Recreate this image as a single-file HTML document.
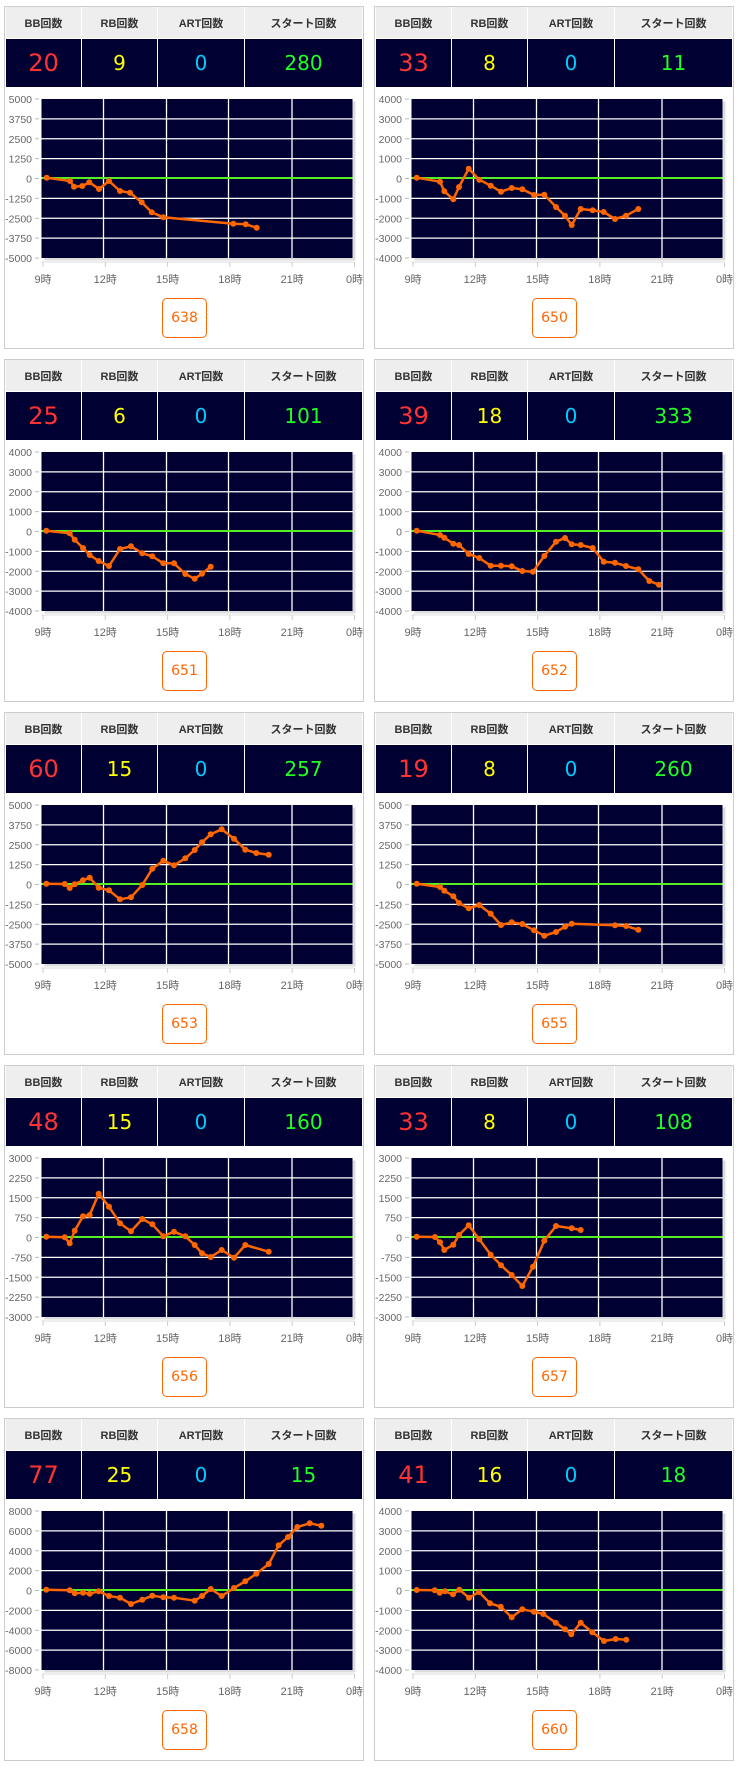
<!DOCTYPE html>
<html><head><meta charset="utf-8">
<style>
body{margin:0;background:#fff;width:738px;height:1767px;position:relative;overflow:hidden;font-family:"Liberation Sans","Noto Sans CJK JP",sans-serif}
.p{position:absolute;width:358px;height:341px;border:1px solid #ccc;background:#fff}
.c{position:absolute;display:flex;align-items:center;justify-content:center}
.h{background:#eee;color:#333;font-weight:bold;font-size:11px;top:0;height:31px}
.d{background:#000033;top:32px;height:48px;font-family:"DejaVu Sans",sans-serif;font-size:20px}
.btn{position:absolute;left:157px;top:291px;width:43px;height:38px;border:1px solid #ff6600;border-radius:5px;color:#ff6600;font-size:14px;display:flex;align-items:center;justify-content:center;font-family:"DejaVu Sans",sans-serif}
svg{position:absolute;left:-1px;top:-1px}
</style></head><body>
<script>
var P=[
["638",[20,9,0,280],5000,-4,-6,[[140,533],[210,543],[222,560],[247,558],[268,547],[297,567],[327,543],[360,573],[390,578],[425,607],[455,637],[490,652],[700,671],[737,673],[770,683]],1],
["650",[33,8,0,11],4000,31,89,[[35,248],[105,260],[118,289],[145,313],[162,276],[191,221],[223,254],[257,272],[288,290],[320,279],[352,283],[387,300],[418,299],[453,336],[480,362],[500,390],[527,342],[563,346],[596,351],[630,372],[663,362],[700,342]]],
["651",[25,6,0,101],4000,34,89,[[25,248],[95,256],[110,275],[135,300],[155,321],[182,339],[213,354],[246,303],[279,295],[313,316],[343,325],[376,346],[408,346],[442,378],[470,392],[492,377],[518,356]]],
["652",[39,18,0,333],4000,31,89,[[35,248],[105,261],[118,269],[145,287],[162,291],[191,318],[223,330],[257,353],[288,353],[320,355],[352,369],[384,371],[418,324],[453,281],[480,270],[500,289],[527,291],[563,300],[596,341],[630,344],[663,354],[700,364],[733,399],[762,410]]],
["653",[60,15,0,257],5000,34,89,[[25,248],[80,249],[95,261],[110,250],[135,238],[155,230],[182,260],[213,268],[246,295],[279,289],[313,252],[343,203],[376,179],[408,193],[442,172],[470,147],[492,124],[518,100],[551,85],[588,113],[622,146],[655,156],[692,161]]],
["655",[19,8,0,260],5000,31,89,[[35,248],[105,258],[118,269],[145,286],[162,306],[191,322],[223,312],[257,338],[288,372],[320,364],[352,369],[387,388],[418,404],[453,393],[480,377],[500,368],[630,373],[663,375],[700,386]]],
["656",[48,15,0,160],3000,34,89,[[25,248],[80,250],[95,268],[110,230],[135,187],[155,183],[182,119],[213,158],[246,208],[279,232],[313,195],[343,211],[376,247],[408,233],[442,247],[470,273],[492,298],[518,309],[551,288],[588,311],[622,273],[692,293]]],
["657",[33,8,0,108],3000,31,89,[[35,248],[90,249],[105,265],[118,288],[145,272],[162,243],[191,214],[223,256],[257,302],[288,334],[320,363],[352,396],[384,338],[418,260],[453,216],[500,223],[527,228]]],
["658",[77,25,0,15],8000,34,89,[[25,248],[95,250],[110,259],[135,257],[155,260],[182,253],[213,267],[246,272],[279,291],[313,278],[343,266],[376,271],[408,272],[470,281],[492,267],[518,246],[551,267],[588,243],[622,223],[655,200],[692,171],[722,115],[750,90],[778,60],[815,49],[850,56]]],
["660",[41,16,0,18],4000,-5,-18,[[143,570],[197,571],[212,578],[228,574],[252,583],[271,569],[300,593],[330,576],[363,610],[395,620],[428,652],[460,628],[495,635],[523,642],[560,668],[588,688],[607,703],[635,668],[670,697],[705,723],[740,717],[772,719]]]
];
var cols=[[1,75],[77,75],[153,86],[240,117]],labs=["BB回数","RB回数","ART回数","スタート回数"],clr=["#ff3333","#ffff00","#00ccff","#22ff22"];
var html="";
P.forEach(function(c,i){
 var L=i%2?374:4,T=6+Math.floor(i/2)*353;
 var s='<div class="p" style="left:'+L+'px;top:'+T+'px">';
 for(var k=0;k<4;k++){
  s+='<div class="c h" style="left:'+cols[k][0]+'px;width:'+cols[k][1]+'px">'+labs[k]+'</div>';
  s+='<div class="c d" style="left:'+cols[k][0]+'px;width:'+cols[k][1]+'px;color:'+clr[k]+(k==0?';font-size:24px':'')+'">'+c[1][k]+'</div>';
 }
 var g='<svg width="360" height="343" xmlns="http://www.w3.org/2000/svg">';
 g+='<rect x="40.5" y="95.5" width="311" height="159" fill="#ddd"/>';
 g+='<rect x="37.5" y="93" width="311" height="159" fill="#000033"/>';
 var xs=[99.5,162.5,224.5,288];
 xs.forEach(function(x){g+='<line x1="'+x+'" y1="93" x2="'+x+'" y2="252" stroke="#fff" stroke-width="1.3"/>';});
 for(var j=0;j<=8;j++){
  var y=93+j*19.875;
  if(j>0&&j<8&&j!=4)g+='<line x1="37.5" y1="'+y+'" x2="348.5" y2="'+y+'" stroke="#fff" stroke-width="1.3"/>';
  g+='<line x1="31" y1="'+y+'" x2="35" y2="'+y+'" stroke="#bbb"/>';
  var v=c[2]-j*c[2]/4;
  g+='<text x="28" y="'+(y+4)+'" font-size="10.5" fill="#666" text-anchor="end" font-family="Liberation Sans,sans-serif">'+v+'</text>';
 }
 g+='<line x1="37.5" y1="256" x2="350" y2="256" stroke="#ddd"/>';
 var hx=[39,101.3,163.6,225.9,288.2,350.5],hl=["9時","12時","15時","18時","21時","0時"];
 hx.forEach(function(x,k){g+='<line x1="'+x+'" y1="256" x2="'+x+'" y2="261" stroke="#ccc"/>';
  g+='<text x="'+x+'" y="277" font-size="11" fill="#666" text-anchor="middle" font-family="Liberation Sans,Noto Sans CJK JP,sans-serif">'+hl[k]+'</text>';});
 g+='<line x1="37.5" y1="172" x2="348.5" y2="172" stroke="#55ee22" stroke-width="2"/>';
 var pts=c[5].map(function(p){return [(c[3]+p[0]/3).toFixed(1),(c[4]+p[1]/3).toFixed(1)];});
 g+='<polyline points="'+pts.map(function(p){return p.join(",")}).join(" ")+'" fill="none" stroke="#ff6600" stroke-width="2.5" stroke-linejoin="round"/>';
 pts.forEach(function(p){g+='<circle cx="'+p[0]+'" cy="'+p[1]+'" r="3" fill="#ff6600"/>';});
 g+='</svg>';
 s+=g+'<div class="btn">'+c[0]+'</div></div>';
 html+=s;
});
document.write(html);
</script>
</body></html>
